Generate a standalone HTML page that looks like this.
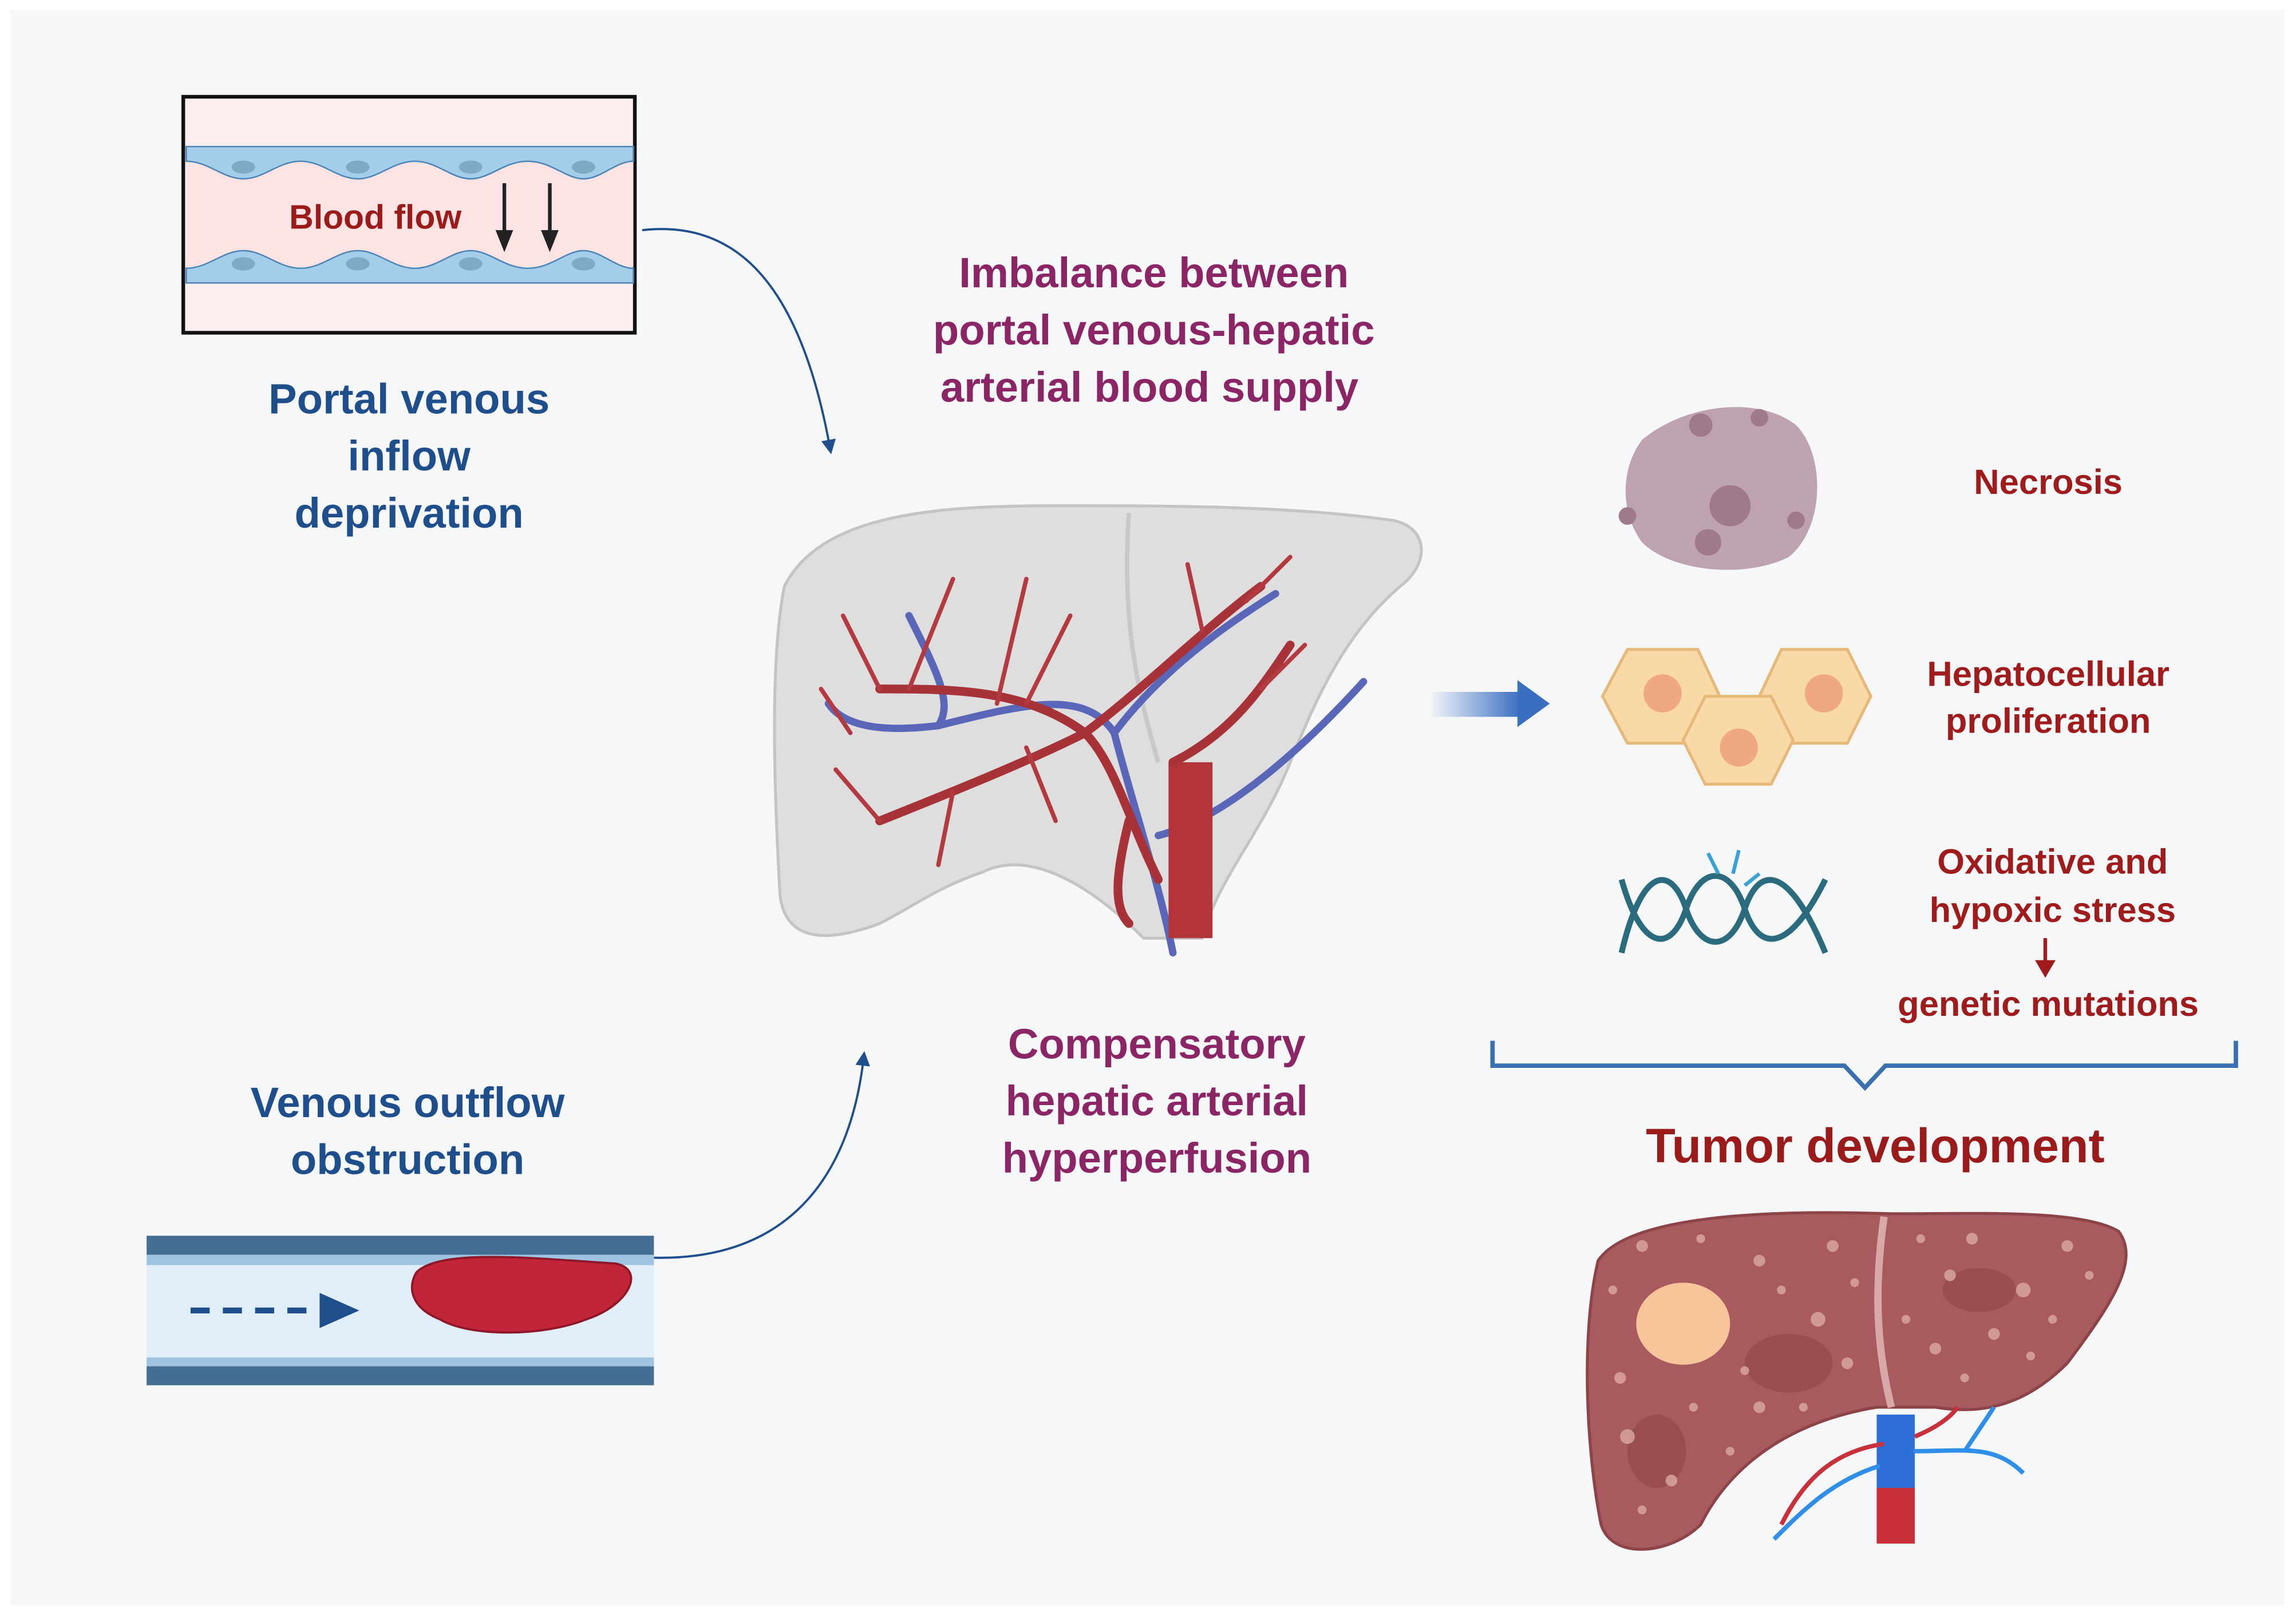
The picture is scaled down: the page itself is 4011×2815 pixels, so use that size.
<!DOCTYPE html>
<html><head><meta charset="utf-8"><style>
html,body{margin:0;padding:0;background:#fff;}
svg{display:block;}
text{font-family:"Liberation Sans",sans-serif;font-weight:bold;}
</style></head><body>
<svg width="4011" height="2815" viewBox="0 0 1566 1099" preserveAspectRatio="none" xmlns="http://www.w3.org/2000/svg">
<defs>
<marker id="ah" markerWidth="10" markerHeight="10" refX="5" refY="5" orient="auto" markerUnits="userSpaceOnUse"><path d="M0,0 L10,5 L0,10 z" fill="#1f4e8c"/></marker>
<linearGradient id="bg1" x1="0" x2="1"><stop offset="0" stop-color="#3a6fc0" stop-opacity="0"/><stop offset="1" stop-color="#3a6fc0"/></linearGradient>
</defs>
<rect x="0" y="0" width="1566" height="1099" fill="#fff"/>
<rect x="7" y="7" width="1551" height="1088" fill="#f5f7f9"/>

<rect x="125" y="66" width="308" height="161" fill="#fbeeee" stroke="#111" stroke-width="2.5"/>
<rect x="127" y="110" width="305" height="72" fill="#fde3e3"/>
<g fill="#a3cde9" stroke="#4c86b6" stroke-width="1">
<path d="M127,100 H432 V110 C420,110 410,122 398,122 C386,122 376,110 360,110 C344,110 334,122 321,122 C308,122 298,110 283,110 C268,110 258,122 244,122 C230,122 220,110 205,110 C190,110 180,122 166,122 C152,122 142,110 127,110 Z"/>
<path d="M127,193 H432 V183 C420,183 410,171 398,171 C386,171 376,183 360,183 C344,183 334,171 321,171 C308,171 298,183 283,183 C268,183 258,171 244,171 C230,171 220,183 205,183 C190,183 180,171 166,171 C152,171 142,183 127,183 Z"/>
</g>
<g fill="#7fa9c6"><ellipse cx="166" cy="114" rx="8" ry="4.5"/><ellipse cx="244" cy="114" rx="8" ry="4.5"/><ellipse cx="321" cy="114" rx="8" ry="4.5"/><ellipse cx="398" cy="114" rx="8" ry="4.5"/>
<ellipse cx="166" cy="180" rx="8" ry="4.5"/><ellipse cx="244" cy="180" rx="8" ry="4.5"/><ellipse cx="321" cy="180" rx="8" ry="4.5"/><ellipse cx="398" cy="180" rx="8" ry="4.5"/></g>
<text x="256" y="156" font-size="23" fill="#9b1b1b" text-anchor="middle">Blood flow</text>
<g stroke="#222" stroke-width="2.5"><line x1="344" y1="125" x2="344" y2="160"/><line x1="375" y1="125" x2="375" y2="160"/></g>
<g fill="#222"><path d="M338,157 L350,157 L344,172 Z"/><path d="M369,157 L381,157 L375,172 Z"/></g>

<path d="M438,157 C500,150 545,190 566,305" fill="none" stroke="#1f4e8c" stroke-width="1.5" marker-end="url(#ah)"/>
<path d="M446,858 C540,860 580,800 589,722" fill="none" stroke="#1f4e8c" stroke-width="1.5" marker-end="url(#ah)"/>

<g fill="#1f4e8c" font-size="29" text-anchor="middle">
<text x="279" y="282">Portal venous</text><text x="279" y="321">inflow</text><text x="279" y="360">deprivation</text>
<text x="278" y="762">Venous outflow</text><text x="278" y="801">obstruction</text>
</g>
<g fill="#8b2566" font-size="29" text-anchor="middle">
<text x="787" y="196">Imbalance between</text><text x="787" y="235">portal venous-hepatic</text><text x="784" y="274">arterial blood supply</text>
<text x="789" y="722">Compensatory</text><text x="789" y="761">hepatic arterial</text><text x="789" y="800">hyperperfusion</text>
</g>

<rect x="100" y="843" width="346" height="102" fill="#e0eef9"/>
<rect x="100" y="843" width="346" height="13" fill="#456e95"/>
<rect x="100" y="856" width="346" height="7" fill="#9ec4e2"/>
<rect x="100" y="932" width="346" height="13" fill="#456e95"/>
<rect x="100" y="926" width="346" height="6" fill="#9ec4e2"/>
<path d="M284,868 C300,852 360,858 420,862 C440,866 430,890 400,900 C370,912 320,912 300,900 C280,892 278,878 284,868 Z" fill="#c2243a" stroke="#8f1828" stroke-width="1.5"/>
<line x1="130" y1="894" x2="215" y2="894" stroke="#1f4e8c" stroke-width="4" stroke-dasharray="13,9"/>
<path d="M218,882 L245,894 L218,906 Z" fill="#1f4e8c"/>

<path d="M535,400 C560,350 640,345 720,345 C800,345 880,345 950,355 C975,360 975,385 955,400 C920,430 900,470 880,520 C860,570 830,600 820,640 L780,640 C740,600 700,580 670,595 C640,605 620,620 600,630 C560,645 535,640 532,610 C528,540 525,450 535,400 Z" fill="#dedede" stroke="#c4c4c4" stroke-width="2"/>
<path d="M770,350 C765,420 775,470 790,520" fill="none" stroke="#c8c8c8" stroke-width="3"/>
<g fill="none" stroke="#5a66b8" stroke-width="5" stroke-linecap="round">
<path d="M800,650 C790,600 770,540 760,500 C740,470 700,480 640,495 C600,500 575,495 565,480"/>
<path d="M760,500 C790,460 830,430 870,405"/>
<path d="M790,570 C830,560 880,520 930,465"/>
<path d="M620,420 C640,460 650,480 640,495"/>
</g>
<rect x="797" y="520" width="30" height="120" fill="#b3353a"/>
<g fill="none" stroke="#a73238" stroke-width="6" stroke-linecap="round">
<path d="M790,600 C770,560 760,520 740,500 C700,470 650,470 600,470"/>
<path d="M740,500 C700,520 650,540 600,560"/>
<path d="M740,500 C780,470 820,430 860,400"/>
<path d="M800,520 C840,500 860,470 880,440"/>
<path d="M770,560 C760,600 760,620 770,630"/>
</g>
<g fill="none" stroke="#b23a40" stroke-width="3" stroke-linecap="round">
<path d="M600,470 L575,420"/><path d="M620,470 L650,395"/><path d="M680,480 L700,395"/><path d="M700,480 L730,420"/>
<path d="M600,560 L570,525"/><path d="M650,540 L640,590"/><path d="M820,430 L810,385"/><path d="M850,410 L880,380"/>
<path d="M700,510 L720,560"/><path d="M580,500 L560,470"/><path d="M860,470 L890,440"/>
</g>

<rect x="975" y="472" width="62" height="17" fill="url(#bg1)"/>
<path d="M1035,464 L1057,480 L1035,496 Z" fill="#3a6fc0"/>

<path d="M1120,300 C1150,275 1200,270 1225,290 C1245,310 1245,360 1220,380 C1190,395 1140,390 1120,370 C1105,350 1105,320 1120,300 Z" fill="#bfa2b0"/>
<g fill="#9e7a8c"><circle cx="1160" cy="290" r="8"/><circle cx="1180" cy="345" r="14"/><circle cx="1225" cy="355" r="6"/><circle cx="1110" cy="352" r="6"/><circle cx="1165" cy="370" r="9"/><circle cx="1200" cy="285" r="6"/></g>
<g fill="#a01c1c" font-size="24" text-anchor="middle">
<text x="1397" y="337">Necrosis</text>
<text x="1397" y="468">Hepatocellular</text><text x="1397" y="500">proliferation</text>
<text x="1400" y="596">Oxidative and</text><text x="1400" y="629">hypoxic stress</text>
<text x="1397" y="693">genetic mutations</text>
</g>
<line x1="1395" y1="640" x2="1395" y2="657" stroke="#a01c1c" stroke-width="2.5"/>
<path d="M1388,655 L1402,655 L1395,667 Z" fill="#a01c1c"/>

<g fill="#f9d9a8" stroke="#e6b97a" stroke-width="2">
<path d="M1110,443 L1158,443 L1173,475 L1158,507 L1110,507 L1093,475 Z"/>
<path d="M1215,443 L1260,443 L1276,475 L1260,507 L1215,507 L1200,475 Z"/>
<path d="M1163,475 L1208,475 L1223,505 L1208,535 L1163,535 L1148,505 Z"/>
</g>
<g fill="#f0a882"><circle cx="1134" cy="473" r="13"/><circle cx="1244" cy="473" r="13"/><circle cx="1186" cy="510" r="13"/></g>

<g fill="none" stroke="#2a6b7d" stroke-width="4">
<path d="M1106,650 C1120,590 1140,590 1150,620 C1160,650 1180,650 1190,620 C1200,590 1220,590 1245,650"/>
<path d="M1106,600 C1120,650 1140,650 1150,620 C1160,590 1180,590 1190,620 C1200,650 1220,650 1245,600"/>
</g>
<g stroke="#3aa1d6" stroke-width="2.5"><line x1="1165" y1="582" x2="1172" y2="596"/><line x1="1186" y1="580" x2="1182" y2="596"/><line x1="1200" y1="596" x2="1190" y2="604"/></g>

<path d="M1018,710 L1018,727 L1258,727 L1272,742 L1286,727 L1525,727 L1525,710" fill="none" stroke="#3a6fb0" stroke-width="3"/>
<text x="1279" y="793" font-size="33" fill="#9b1b1b" text-anchor="middle">Tumor development</text>

<path d="M1090,860 C1110,830 1200,825 1290,828 C1350,828 1420,825 1445,840 C1460,860 1440,890 1410,930 C1380,960 1350,965 1320,960 L1280,960 C1220,970 1180,1000 1160,1040 C1140,1060 1100,1065 1092,1040 C1082,990 1078,910 1090,860 Z" fill="#a95a5e" stroke="#8d4448" stroke-width="2"/>
<g fill="#8f4649" opacity="0.6"><ellipse cx="1220" cy="930" rx="30" ry="20"/><ellipse cx="1350" cy="880" rx="25" ry="15"/><ellipse cx="1130" cy="990" rx="20" ry="25"/></g>
<path d="M1285,830 C1278,880 1280,920 1290,960" fill="none" stroke="#d8a9a8" stroke-width="5"/>
<ellipse cx="1148" cy="903" rx="32" ry="28" fill="#f8c59a"/>
<g fill="#d9a4a0" opacity="0.85">
<circle cx="1120" cy="850" r="4"/><circle cx="1200" cy="860" r="4"/><circle cx="1240" cy="900" r="5"/><circle cx="1330" cy="870" r="4"/><circle cx="1380" cy="880" r="5"/><circle cx="1410" cy="850" r="4"/><circle cx="1110" cy="980" r="5"/><circle cx="1200" cy="960" r="4"/><circle cx="1250" cy="850" r="4"/><circle cx="1320" cy="920" r="4"/><circle cx="1140" cy="1010" r="4"/><circle cx="1360" cy="910" r="4"/>
<circle cx="1160" cy="845" r="3"/><circle cx="1215" cy="880" r="3"/><circle cx="1260" cy="930" r="4"/><circle cx="1230" cy="960" r="3"/><circle cx="1105" cy="940" r="4"/><circle cx="1120" cy="1030" r="3"/><circle cx="1180" cy="990" r="3"/><circle cx="1310" cy="845" r="3"/><circle cx="1345" cy="845" r="4"/><circle cx="1400" cy="900" r="3"/><circle cx="1425" cy="870" r="3"/><circle cx="1300" cy="900" r="3"/><circle cx="1340" cy="940" r="3"/><circle cx="1265" cy="875" r="3"/><circle cx="1100" cy="880" r="3"/><circle cx="1190" cy="935" r="3"/><circle cx="1155" cy="960" r="3"/><circle cx="1385" cy="925" r="3"/>
</g>
<rect x="1280" y="965" width="26" height="88" fill="#2f6fd8"/>
<rect x="1280" y="1015" width="26" height="38" fill="#c8303a"/>
<g fill="none" stroke="#2f8ee8" stroke-width="3"><path d="M1305,990 C1340,990 1360,985 1380,1005"/><path d="M1340,990 L1360,960"/><path d="M1282,1000 C1250,1010 1230,1030 1210,1050"/></g>
<g fill="none" stroke="#c8303a" stroke-width="3"><path d="M1285,985 C1250,990 1230,1010 1215,1040"/><path d="M1306,980 C1330,970 1335,960 1335,960"/></g>
</svg>
</body></html>
